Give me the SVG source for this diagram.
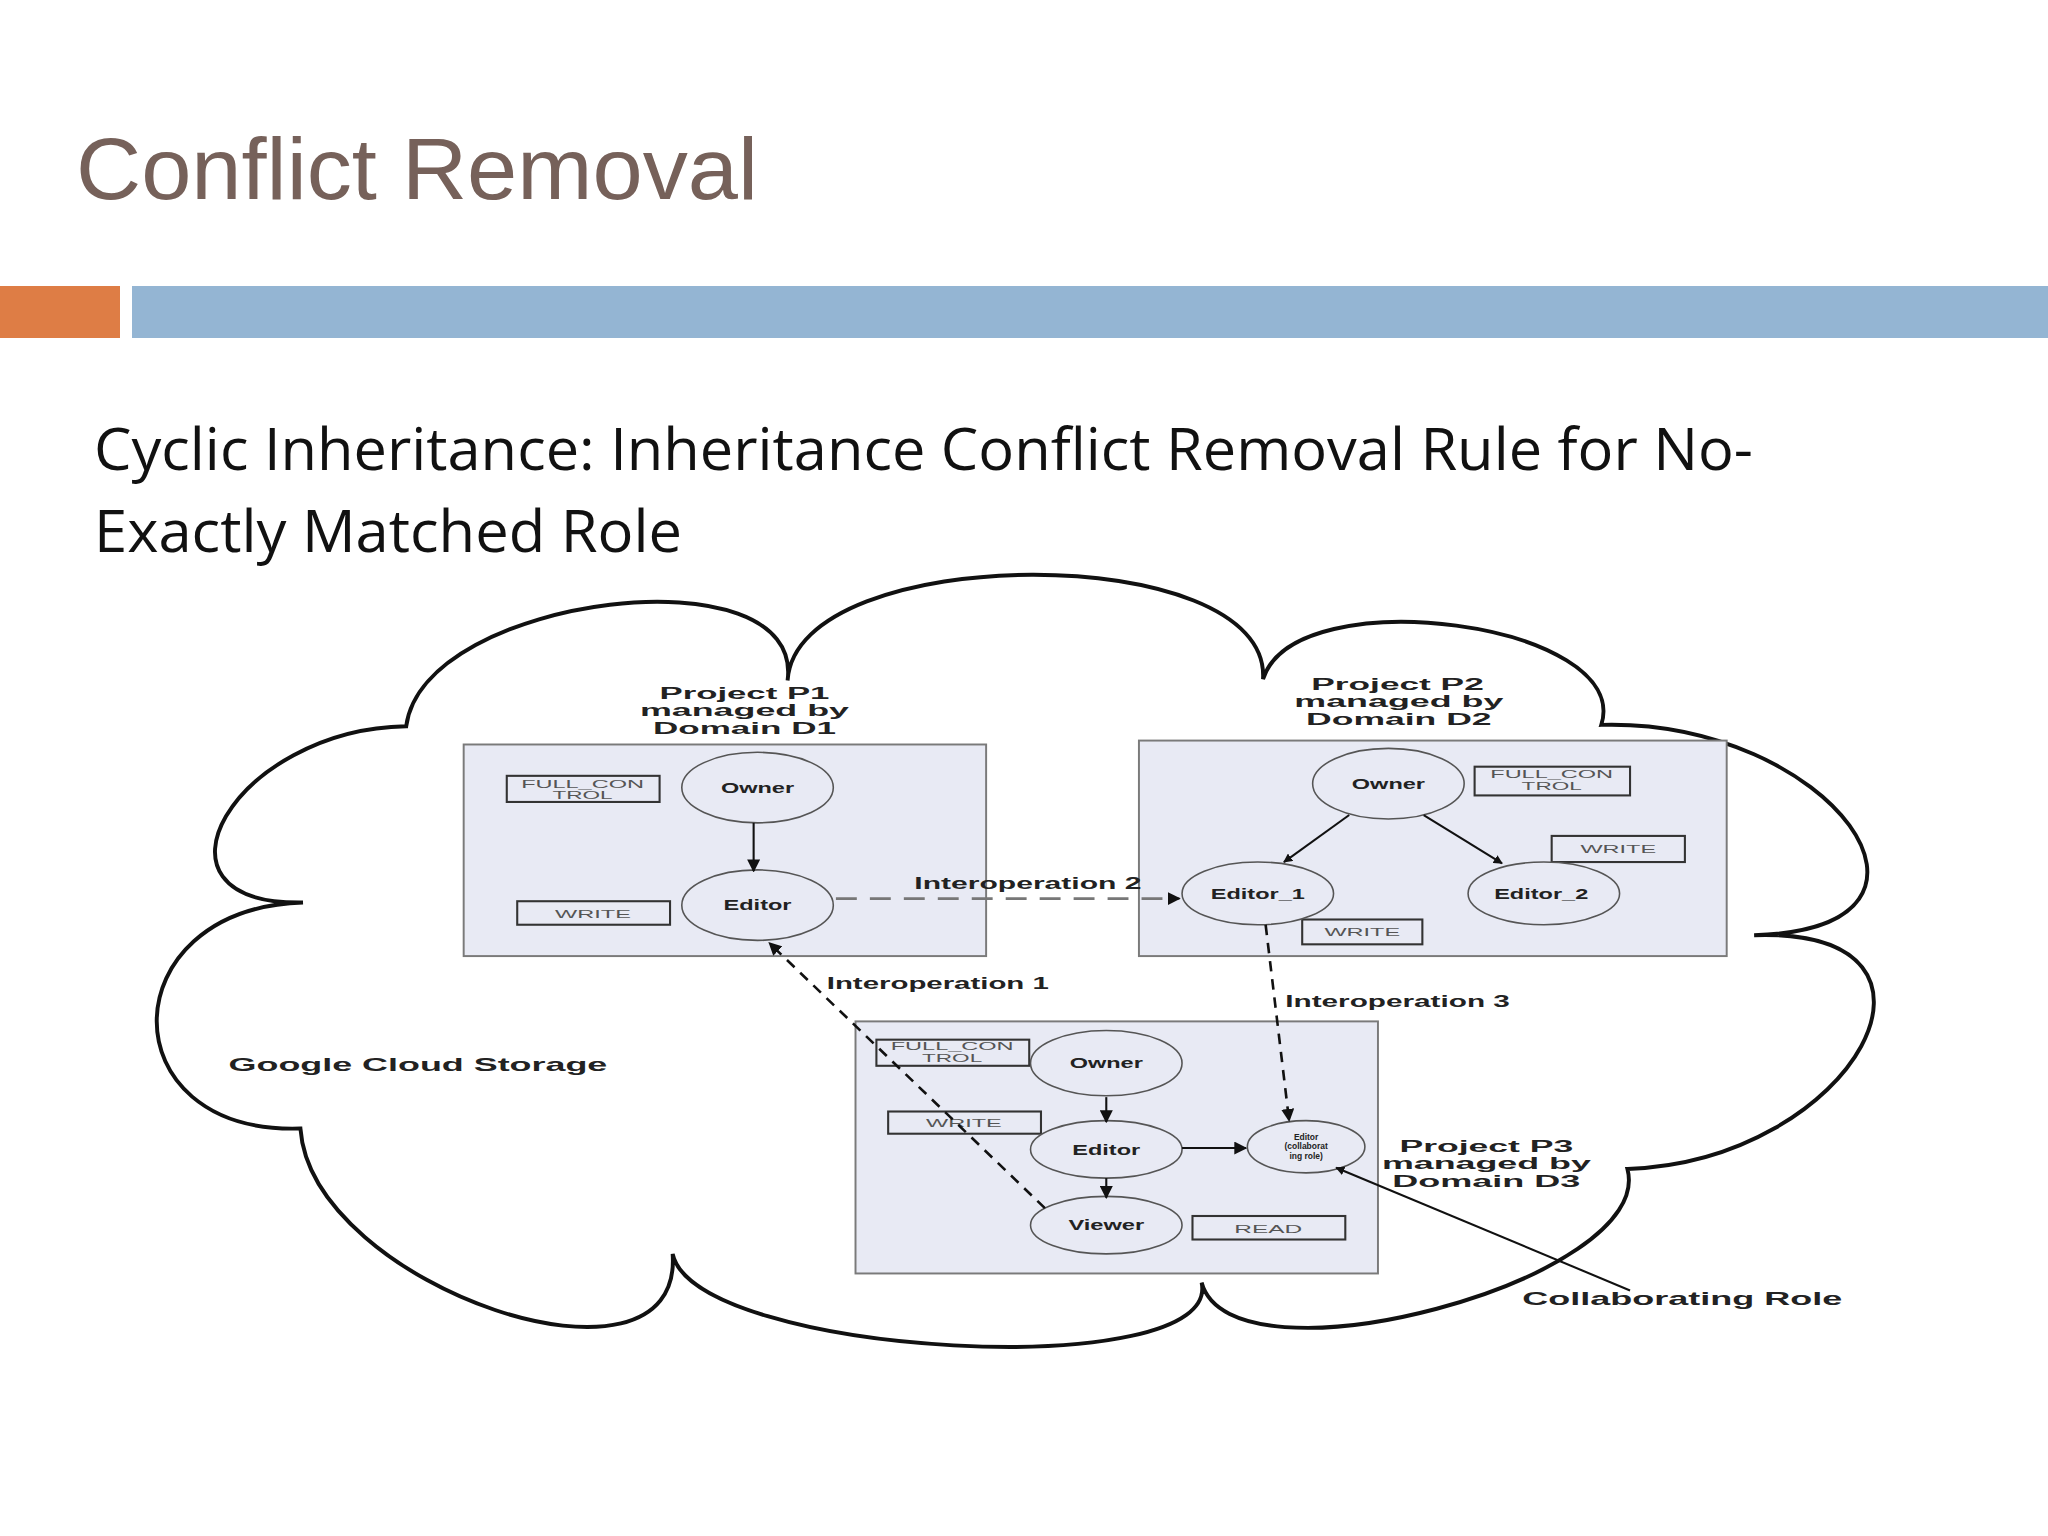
<svg xmlns="http://www.w3.org/2000/svg" width="2048" height="1536" viewBox="0 0 2048 1536">
<defs>
<marker id="ah" viewBox="0 0 10 10" refX="9" refY="5" markerWidth="7" markerHeight="7" orient="auto" markerUnits="userSpaceOnUse"><path d="M0,0 L10,5 L0,10 z" fill="#111"/></marker>
<marker id="ahb" viewBox="0 0 10 10" refX="9" refY="5" markerWidth="10" markerHeight="10" orient="auto" markerUnits="userSpaceOnUse"><path d="M0,0 L10,5 L0,10 z" fill="#111"/></marker>
</defs>
<style>
.box{fill:#e8eaf4;stroke:#7a7a7a;stroke-width:1.5}
.perm{fill:none;stroke:#333;stroke-width:1.6}
.ell{fill:#e8eaf4;stroke:#555;stroke-width:1.2}
.lbl{font-family:"Liberation Sans",Arial,sans-serif;font-weight:bold;fill:#222;text-anchor:middle}
.small{font-family:"Liberation Sans",Arial,sans-serif;fill:#555;text-anchor:middle;font-size:9px}
.head{font-family:"Liberation Sans",Arial,sans-serif;font-weight:bold;fill:#222;text-anchor:middle;font-size:12.5px}
.edge{fill:none;stroke:#111;stroke-width:1.6}
.dash{fill:none;stroke:#111;stroke-width:2;stroke-dasharray:8,6}
.dashg{fill:none;stroke:#777;stroke-width:2;stroke-dasharray:16,10}
</style>
<rect width="2048" height="1536" fill="#fff"/>
<text x="76" y="199" font-family="Liberation Sans, Arial, sans-serif" font-size="88" fill="#76615a" textLength="682" lengthAdjust="spacingAndGlyphs">Conflict Removal</text>
<rect x="0" y="286" width="120" height="52" fill="#de7d45"/>
<rect x="132" y="286" width="1916" height="52" fill="#94b5d3"/>
<text x="94" y="470" font-family="Open Sans, Liberation Sans, sans-serif" font-size="58" fill="#111" textLength="1659" lengthAdjust="spacingAndGlyphs">Cyclic Inheritance: Inheritance Conflict Removal Rule for No-</text>
<text x="94" y="552" font-family="Open Sans, Liberation Sans, sans-serif" font-size="58" fill="#111" textLength="588" lengthAdjust="spacingAndGlyphs">Exactly Matched Role</text>
<g transform="scale(1.30612)">
<g id="cloud">
<path d="M232,691 C100.7,693 179.7,558 311,556 C324.3,455.3 616.3,420.3 603,521 C609.7,413.7 973.7,412.7 967,520 C991.7,442 1250.7,477 1226,555 C1401.3,550.3 1518.3,711.3 1343,716 C1517,710 1420,889 1246,895 C1268.7,979.7 942.7,1066.7 920,982 C936.7,1060.7 531.7,1038.7 515,960 C523.7,1081.3 238.7,985.3 230,864 C82,868.7 84,695.7 232,691 Z" fill="none" stroke="#111" stroke-width="3"/>
<text x="175" y="820" class="lbl" font-size="14" style="text-anchor:start" textLength="290" lengthAdjust="spacingAndGlyphs">Google Cloud Storage</text>
</g>
<g id="p1">
<rect class="box" x="355" y="570" width="400" height="162"/>
<text class="head" x="570" y="535" textLength="130" lengthAdjust="spacingAndGlyphs">Project P1</text>
<text class="head" x="570" y="548" textLength="160" lengthAdjust="spacingAndGlyphs">managed by</text>
<text class="head" x="570" y="562" textLength="140" lengthAdjust="spacingAndGlyphs">Domain D1</text>
<rect class="perm" x="388" y="594" width="117" height="20"/>
<text class="small" x="446" y="603" textLength="94" lengthAdjust="spacingAndGlyphs">FULL_CON</text><text class="small" x="446" y="612" textLength="46" lengthAdjust="spacingAndGlyphs">TROL</text>
<rect class="perm" x="396" y="690" width="117" height="18"/>
<text class="small" x="454" y="703" textLength="58" lengthAdjust="spacingAndGlyphs">WRITE</text>
</g>
<g id="p1owner"><ellipse class="ell" cx="580" cy="603" rx="58" ry="27"/><text class="lbl" x="580" y="607" font-size="10.5" textLength="56" lengthAdjust="spacingAndGlyphs">Owner</text></g>
<g id="p1editor"><ellipse class="ell" cx="580" cy="693" rx="58" ry="27"/><text class="lbl" x="580" y="697" font-size="10.5" textLength="52" lengthAdjust="spacingAndGlyphs">Editor</text></g>
<g id="p2">
<rect class="box" x="872" y="567" width="450" height="165"/>
<text class="head" x="1070" y="528" textLength="132" lengthAdjust="spacingAndGlyphs">Project P2</text>
<text class="head" x="1071" y="541" textLength="160" lengthAdjust="spacingAndGlyphs">managed by</text>
<text class="head" x="1071" y="555" textLength="142" lengthAdjust="spacingAndGlyphs">Domain D2</text>
<rect class="perm" x="1129" y="587" width="119" height="22"/>
<text class="small" x="1188" y="596" textLength="94" lengthAdjust="spacingAndGlyphs">FULL_CON</text><text class="small" x="1188" y="605" textLength="46" lengthAdjust="spacingAndGlyphs">TROL</text>
<rect class="perm" x="1188" y="640" width="102" height="20"/>
<text class="small" x="1239" y="653" textLength="58" lengthAdjust="spacingAndGlyphs">WRITE</text>
<rect class="perm" x="997" y="704" width="92" height="19"/>
<text class="small" x="1043" y="717" textLength="58" lengthAdjust="spacingAndGlyphs">WRITE</text>
</g>
<g id="p2owner"><ellipse class="ell" cx="1063" cy="600" rx="58" ry="27"/><text class="lbl" x="1063" y="604" font-size="10.5" textLength="56" lengthAdjust="spacingAndGlyphs">Owner</text></g>
<g id="p2editor1"><ellipse class="ell" cx="963" cy="684" rx="58" ry="24"/><text class="lbl" x="963" y="688" font-size="10.5" textLength="72" lengthAdjust="spacingAndGlyphs">Editor_1</text></g>
<g id="p2editor2"><ellipse class="ell" cx="1182" cy="684" rx="58" ry="24"/><text class="lbl" x="1180" y="688" font-size="10.5" textLength="72" lengthAdjust="spacingAndGlyphs">Editor_2</text></g>
<g id="p3">
<rect class="box" x="655" y="782" width="400" height="193"/>
<text class="head" x="1138" y="882" textLength="133" lengthAdjust="spacingAndGlyphs">Project P3</text>
<text class="head" x="1138" y="895" textLength="160" lengthAdjust="spacingAndGlyphs">managed by</text>
<text class="head" x="1138" y="909" textLength="144" lengthAdjust="spacingAndGlyphs">Domain D3</text>
<rect class="perm" x="671" y="796" width="117" height="20"/>
<text class="small" x="729" y="804" textLength="94" lengthAdjust="spacingAndGlyphs">FULL_CON</text><text class="small" x="729" y="813" textLength="46" lengthAdjust="spacingAndGlyphs">TROL</text>
<rect class="perm" x="680" y="851" width="117" height="17"/>
<text class="small" x="738" y="863" textLength="58" lengthAdjust="spacingAndGlyphs">WRITE</text>
<rect class="perm" x="913" y="931" width="117" height="18"/>
<text class="small" x="971" y="944" textLength="52" lengthAdjust="spacingAndGlyphs">READ</text>
</g>
<g id="p3owner"><ellipse class="ell" cx="847" cy="814" rx="58" ry="25"/><text class="lbl" x="847" y="818" font-size="10.5" textLength="56" lengthAdjust="spacingAndGlyphs">Owner</text></g>
<g id="p3editor"><ellipse class="ell" cx="847" cy="880" rx="58" ry="22"/><text class="lbl" x="847" y="884" font-size="10.5" textLength="52" lengthAdjust="spacingAndGlyphs">Editor</text></g>
<g id="p3viewer"><ellipse class="ell" cx="847" cy="938" rx="58" ry="22"/><text class="lbl" x="847" y="942" font-size="10.5" textLength="58" lengthAdjust="spacingAndGlyphs">Viewer</text></g>
<g id="p3collab"><ellipse class="ell" cx="1000" cy="878" rx="45" ry="20"/>
<text class="lbl" x="1000" y="873" font-size="6.5">Editor</text><text class="lbl" x="1000" y="880" font-size="6.5">(collaborat</text><text class="lbl" x="1000" y="887" font-size="6.5">ing role)</text></g>
<g id="collablabel"><text class="lbl" x="1288" y="999" font-size="14" textLength="245" lengthAdjust="spacingAndGlyphs">Collaborating Role</text></g>
<g id="connectors">
<line class="edge" x1="577" y1="630" x2="577" y2="667" marker-end="url(#ahb)"/>
<line class="edge" x1="1033" y1="624" x2="983" y2="660" marker-end="url(#ah)"/>
<line class="edge" x1="1090" y1="624" x2="1150" y2="661" marker-end="url(#ah)"/>
<line class="edge" x1="847" y1="840" x2="847" y2="859" marker-end="url(#ahb)"/>
<line class="edge" x1="847" y1="902" x2="847" y2="917" marker-end="url(#ahb)"/>
<line class="edge" x1="905" y1="879" x2="954" y2="879" marker-end="url(#ahb)"/>
<line class="dashg" x1="640" y1="688" x2="903" y2="688" marker-end="url(#ahb)"/>
<line class="dash" x1="969" y1="708" x2="987" y2="858" marker-end="url(#ahb)"/>
<line class="dash" x1="800" y1="925" x2="589" y2="722" marker-end="url(#ahb)"/>
<line class="edge" x1="1248" y1="988" x2="1023" y2="894" stroke-width="1.3" marker-end="url(#ah)"/>
<text class="lbl" x="787" y="681" font-size="13" textLength="174" lengthAdjust="spacingAndGlyphs">Interoperation 2</text>
<text class="lbl" x="718" y="757" font-size="12" textLength="170" lengthAdjust="spacingAndGlyphs">Interoperation 1</text>
<text class="lbl" x="1070" y="771" font-size="12" textLength="172" lengthAdjust="spacingAndGlyphs">Interoperation 3</text>
</g>
</g>
</svg>
